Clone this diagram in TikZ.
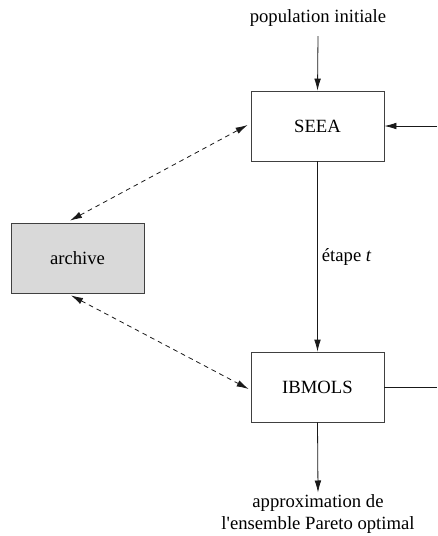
\documentclass[tikz,border=0pt]{standalone}
\usepackage{fontspec}
\setmainfont{Liberation Serif}[Ligatures=TeXOff]
\usetikzlibrary{arrows.meta,calc}

\tikzset{
  box/.style={draw=black!75,line width=0.6pt,minimum width=99.75pt,minimum height=52.5pt,inner sep=0pt,font=\fontsize{14}{17}\selectfont},
  lbl/.style={align=center,font=\fontsize{14}{17}\selectfont},
  flow/.style={draw=black!90,line width=0.6pt,-{Latex[length=9pt,width=5pt]}},
  share/.style={draw=black!90,line width=0.6pt,dash pattern=on 3.5pt off 3pt,{Latex[length=9pt,width=5pt]}-{Latex[length=9pt,width=5pt]}}
}

\begin{document}
\begin{tikzpicture}[x=0.75pt,y=0.75pt,yscale=-1,xscale=1]
\useasboundingbox (0,0) rectangle (437,536);

%Shape: Rectangle [id:seea]
\node[box] (seea) at (317.5,126) {SEEA};
%Shape: Rectangle [id:archive]
\node[box,fill=black!15] (archive) at (77.5,258) {archive};
%Shape: Rectangle [id:ibmols]
\node[box] (ibmols) at (317.5,387) {IBMOLS};

% Text Node
\node[lbl] (popinit) at (318,18) {population initiale};
% Text Node
\node[lbl] (pareto) at (318,514) {approximation de\\l'ensemble Pareto optimal};
% free ends on the right
\coordinate (retin) at (437,126);
\coordinate (retout) at (437,387);

%Straight Lines
\draw[flow] (popinit.south) ++(0,5) -- (seea.north);
\draw[flow] (seea.south) -- node[right,inner sep=3pt,font=\fontsize{14}{17}\selectfont] {étape \textit{t}} (ibmols.north);
\draw[flow] (ibmols.south) -- ($(pareto.north)+(0,3)$);
\draw[flow] (retin) -- (seea.east);
\draw[draw=black!90,line width=0.6pt] (ibmols.east) -- (retout);
%Dashed Lines
\draw[share] ([shift={(-7.5,-2)}]archive.north) -- ([shift={(-3,-1)}]seea.west);
\draw[share] ([shift={(-6.5,2)}]archive.south) -- ([shift={(-2,2)}]ibmols.west);

\end{tikzpicture}
\end{document}
